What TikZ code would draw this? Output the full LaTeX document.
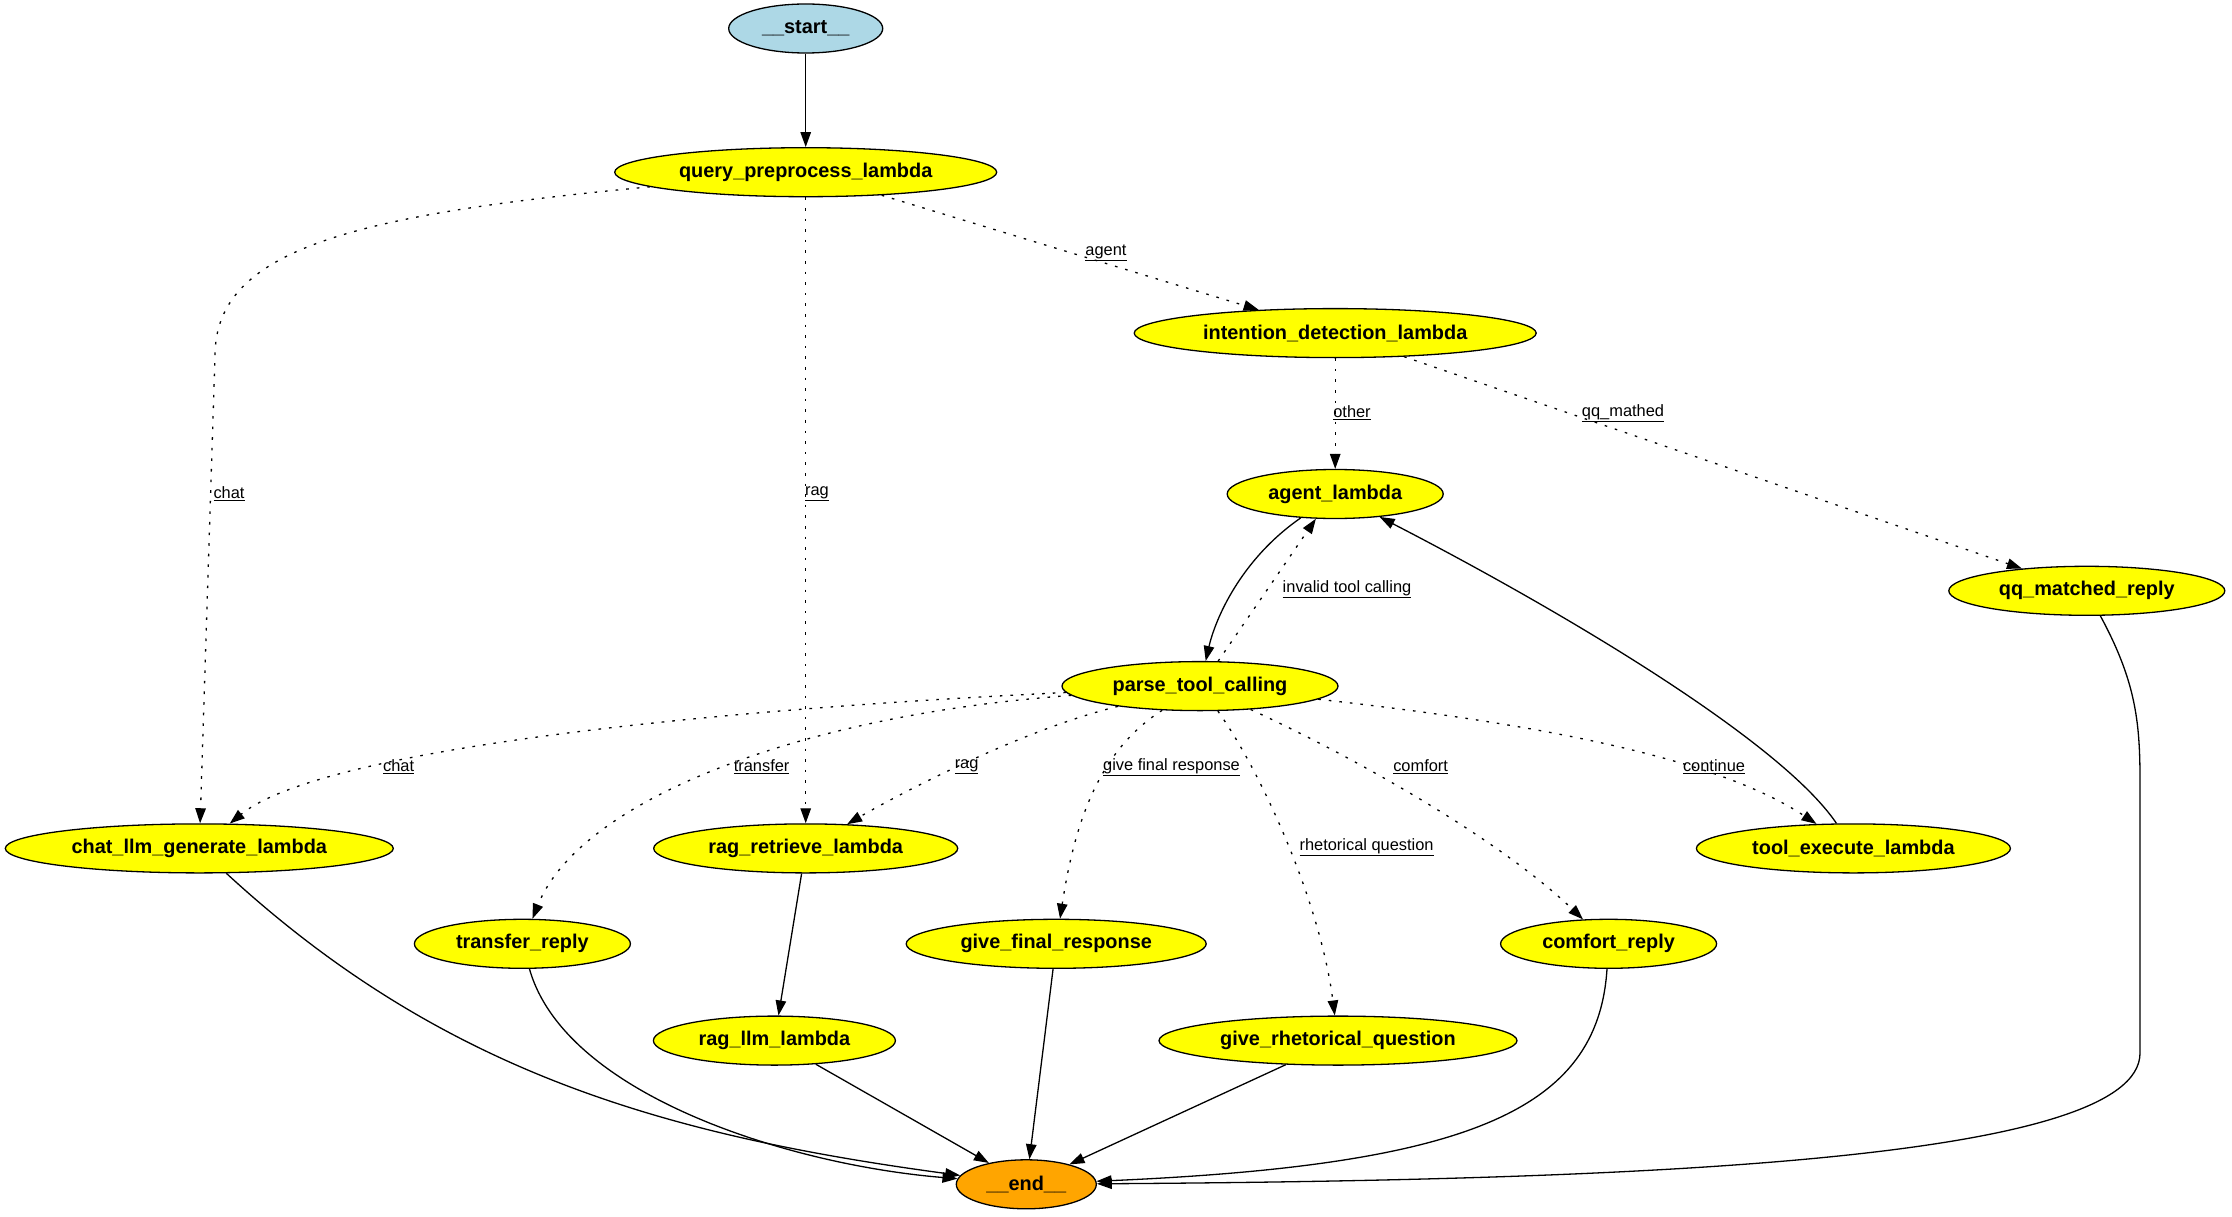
\documentclass[tikz,border=0pt]{standalone}
\usepackage{fontspec}
\setmainfont{Liberation Sans}
\usetikzlibrary{shapes.geometric,arrows.meta}
\definecolor{startblue}{HTML}{ADD8E6}
\definecolor{endorange}{HTML}{FFA500}
\definecolor{nodeyellow}{HTML}{FFFF00}
\newcommand\nfont{\fontsize{19.9pt}{24pt}\selectfont\bfseries}
\newcommand\efont{\fontsize{16.4pt}{20pt}\selectfont}
\tikzset{
  nd/.style={ellipse, draw=black, line width=1.3pt, fill=nodeyellow, minimum height=49pt, inner sep=0pt, font=\nfont},
  el/.style={inner sep=0pt, font=\efont},
  solidedge/.style={draw=black, line width=1.3pt, -{Triangle[length=15pt,width=10.5pt]}},
  dotedge/.style={solidedge, dash pattern=on 2.6pt off 8pt},
}
\begin{document}
\begin{tikzpicture}[x=1pt,y=-1pt]
\useasboundingbox (0,0) rectangle (2232,1217);
\fill[white] (0,0) rectangle (2232,1217);
% nodes
\node[nd, fill=startblue, minimum width=154pt] (start) at (805.7,28.5) {\_\_start\_\_};
\node[nd, minimum width=382pt] (qp) at (805.7,172.2) {query\_preprocess\_lambda};
\node[nd, minimum width=402pt] (intent) at (1335.2,333.1) {intention\_detection\_lambda};
\node[nd, minimum width=216pt] (agent) at (1335.2,494) {agent\_lambda};
\node[nd, minimum width=276pt] (qq) at (2086.8,590.8) {qq\_matched\_reply};
\node[nd, minimum width=276pt] (parse) at (1200,686.1) {parse\_tool\_calling};
\node[nd, minimum width=388pt] (chat) at (199.3,848.4) {chat\_llm\_generate\_lambda};
\node[nd, minimum width=304pt] (ragr) at (805.7,848.4) {rag\_retrieve\_lambda};
\node[nd, minimum width=314pt] (tool) at (1853.4,848.4) {tool\_execute\_lambda};
\node[nd, minimum width=216pt] (transfer) at (522.4,943.8) {transfer\_reply};
\node[nd, minimum width=300pt] (gfr) at (1056.2,943.8) {give\_final\_response};
\node[nd, minimum width=216pt] (comfort) at (1608.6,943.8) {comfort\_reply};
\node[nd, minimum width=242pt] (ragllm) at (774.4,1040.6) {rag\_llm\_lambda};
\node[nd, minimum width=358pt] (grq) at (1338,1040.6) {give\_rhetorical\_question};
\node[nd, fill=endorange, minimum width=140pt] (end) at (1026.3,1184.3) {\_\_end\_\_};
% edges
\draw[solidedge] (start) -- (qp);
\draw[dotedge] (qp) .. controls (350,215) and (215,250) .. (215,356) -- (chat);
\draw[dotedge] (qp) -- (ragr);
\draw[dotedge] (qp) -- (intent);
\draw[dotedge] (intent) -- (agent);
\draw[dotedge] (intent) -- (qq);
\draw[solidedge] (agent) .. controls (1240,560) and (1215,620) .. (parse);
\draw[dotedge] (parse.54) -- (agent.232);
\draw[solidedge] (tool) .. controls (1780,740) and (1560,610) .. (agent);
\draw[solidedge] (qq) .. controls (2135,680) and (2140,720) .. (2140,780) -- (2140,1053) .. controls (2140,1160) and (1650,1180) .. (end);
\draw[dotedge] (parse) .. controls (700,710) and (320,750) .. (chat);
\draw[dotedge] (parse) .. controls (800,715) and (580,800) .. (transfer);
\draw[dotedge] (parse) .. controls (1010,733) and (880,805) .. (ragr);
\draw[dotedge] (parse) .. controls (1100,750) and (1075,820) .. (gfr);
\draw[dotedge] (parse) .. controls (1260,770) and (1320,900) .. (grq);
\draw[dotedge] (parse) .. controls (1360,760) and (1500,840) .. (comfort);
\draw[dotedge] (parse) .. controls (1550,725) and (1720,760) .. (tool);
\draw[solidedge] (chat) .. controls (440,1070) and (660,1135) .. (end);
\draw[solidedge] (transfer) .. controls (565,1095) and (790,1165) .. (end);
\draw[solidedge] (ragr) -- (ragllm);
\draw[solidedge] (ragllm) -- (end);
\draw[solidedge] (gfr) -- (end);
\draw[solidedge] (grq) -- (end);
\draw[solidedge] (comfort) .. controls (1598,1110) and (1470,1165) .. (end);
% edge labels
\node[el] (lagent) at (1106,253) {\underline{agent}};
\node[el] (lchat1) at (229,494) {\underline{chat}};
\node[el] (lrag1) at (817,494) {\underline{rag}};
\node[el] (lother) at (1352,413) {\underline{other}};
\node[el] (lqq) at (1623,413) {\underline{qq\_mathed}};
\node[el] (linv) at (1347,589) {\underline{invalid tool calling}};
\node[el] (lchat2) at (398.6,767) {\underline{chat}};
\node[el] (ltransfer) at (761.6,767) {\underline{transfer}};
\node[el] (lrag2) at (966.6,767) {\underline{rag}};
\node[el] (lgfr) at (1171.5,767) {\underline{give final response}};
\node[el] (lcomfort) at (1420.6,767) {\underline{comfort}};
\node[el] (lcont) at (1714,767) {\underline{continue}};
\node[el] (lrq) at (1366.6,847) {\underline{rhetorical question}};
\end{tikzpicture}
\end{document}
